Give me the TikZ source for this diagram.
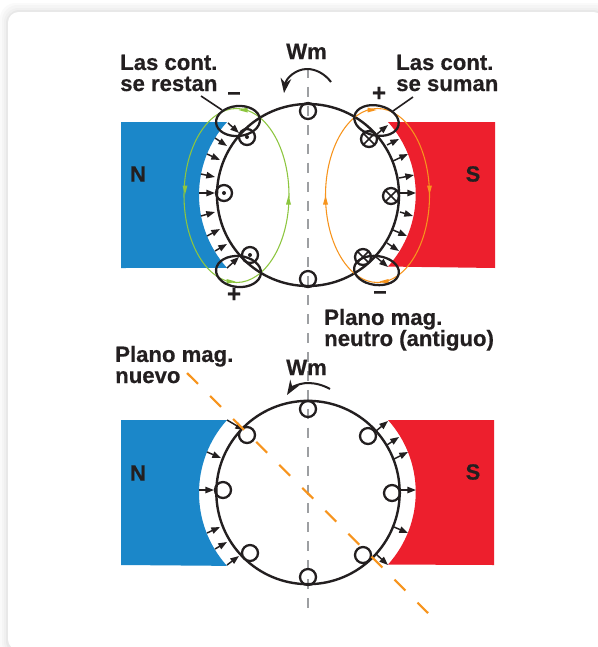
\documentclass[tikz,border=0pt]{standalone}
\usepackage{fontspec}
\setmainfont{Liberation Sans}[BoldFeatures={FakeBold=0.5}]
\usetikzlibrary{arrows.meta,calc}
\definecolor{cblue}{HTML}{1B87C9}
\definecolor{cred}{HTML}{ED1F2D}
\definecolor{cgreen}{HTML}{8DC63F}
\definecolor{corange}{HTML}{F7941D}
\definecolor{cink}{HTML}{231F20}
\definecolor{cgray}{HTML}{9D9FA2}
\tikzset{
  x=0.75pt,y=-0.75pt,
  ink/.style={draw=cink,line width=1.7pt},
  slot/.style={circle,draw=cink,line width=1.7pt,minimum size=12pt,inner sep=0pt},
  rotor/.style={circle,draw=cink,line width=1.8pt,minimum size=136.5pt,inner sep=0pt},
  field/.style={draw=cink,line width=1.1pt,-{Stealth[inset=0pt,length=6.5pt,width=4.8pt]}},
  lbl/.style={font=\fontsize{16.6pt}{15.8pt}\selectfont\bfseries,text=cink,align=left,inner sep=0pt,anchor=base west},
  pole/.style={font=\fontsize{16.5pt}{16pt}\selectfont\bfseries,text=cink,inner sep=0pt},
  sign/.style={font=\fontsize{18pt}{18pt}\selectfont\bfseries,text=cink,inner sep=0pt},
  axisline/.style={draw=cgray,line width=2pt,dash pattern=on 7.5pt off 6.7pt},
  neworange/.style={draw=corange,line width=1.6pt,dash pattern=on 11.6pt off 12.8pt},
  loopgreen/.style={draw=cgreen,line width=0.8pt},
  looporange/.style={draw=corange,line width=0.8pt},
  wm/.style={draw=cink,line width=1.5pt,-{Stealth[length=11pt,width=8pt]}},
}
\newcommand{\crossmark}[1]{\draw[draw=cink,line width=1.2pt] ($(#1)+(-5.6,-5.6)$) -- ($(#1)+(5.6,5.6)$) ($(#1)+(-5.6,5.6)$) -- ($(#1)+(5.6,-5.6)$);}
\newcommand{\loophead}[3]{\fill[#3,shift={(#1)},rotate=#2] (4.5,0) -- (-4.5,-2.5) -- (-4.5,2.5) -- cycle;}
\begin{document}
\begin{tikzpicture}
\useasboundingbox (0,0) rectangle (598,647);
% card and its soft shadow
\fill[white] (0,0) rectangle (598,647);
\fill[black!2,rounded corners=12pt] (0,3) rectangle (612,660);
\fill[black!4,rounded corners=12pt] (2,5) rectangle (610,658);
\fill[black!6,rounded corners=11pt] (4,8) rectangle (608,656);
\fill[black!9,rounded corners=10pt] (6,10) rectangle (606,654);
\fill[white,rounded corners=8pt] (8,12) rectangle (604,650);

% magnets
\fill[cblue] (121,122) -- (227,122) arc[start angle=222,end angle=138,radius=109] -- (121,268) -- cycle;
\fill[cred] (495,122) -- (388,122) arc[start angle=-42,end angle=42,radius=108] -- (495,268) -- cycle;
\fill[cblue] (121,420) -- (227,420) arc[start angle=222,end angle=138,radius=109] -- (121,565) -- cycle;
\fill[cred] (494,420) -- (388,420) arc[start angle=-42,end angle=42,radius=108] -- (494,565) -- cycle;

\coordinate (axisA) at (308,68);
\coordinate (axisB) at (308,612);
\draw[axisline] (axisA) -- (axisB);

% === upper machine ===
\node[rotor] (rotorA) at (308,195) {};
\node[slot] (a1) at (308,111) {};
\node[slot] (a2) at (308,279) {};
\node[slot] (a3) at (224,193) {};
\node[slot] (a4) at (247,137) {};
\node[slot] (a5) at (250,255) {};
\node[slot] (a6) at (369,139) {};
\node[slot] (a7) at (391,196) {};
\node[slot] (a8) at (363,257) {};
\fill[cink] (a3) circle[radius=2];
\fill[cink] (a4) circle[radius=2];
\fill[cink] (a5) circle[radius=2];
\crossmark{a6}\crossmark{a7}\crossmark{a8}

\foreach \xa/\ya/\xb/\yb in {
 228/123/239/133, 215/138/227/146, 207/154/220/160, 201/174/215/177, 199/193/215/193,
 201/216/215/212, 207/236/220/229, 215/251/227/244, 227/268/239/257,
 377/134/388/125, 387/145/399/139, 393/161/408/154, 399/178/414/175, 400/193/416/193,
 400/212/413/216, 393/230/407/236, 387/243/399/251, 376/257/388/267}
  \draw[field] (\xa,\ya) -- (\xb,\yb);

% flux loops
\draw[loopgreen] (236.5,195.5) ellipse[x radius=52.5,y radius=87];
\draw[looporange] (377.5,195.5) ellipse[x radius=52,y radius=87];
\loophead{243,110}{180}{cgreen}
\loophead{185,190}{-90}{cgreen}
\loophead{231,281.5}{0}{cgreen}
\loophead{288.5,200}{90}{cgreen}
\loophead{372,110}{0}{corange}
\loophead{429.5,190}{-90}{corange}
\loophead{384,281.5}{180}{corange}
\loophead{325.5,200}{90}{corange}

% commutating zones
\draw[ink,rotate around={5:(238,121)}] (238,121) ellipse[x radius=22,y radius=15];
\draw[ink,rotate around={-5:(238.5,271.5)}] (238.5,271.5) ellipse[x radius=22.5,y radius=15.5];
\draw[ink,rotate around={-12:(376.5,120.5)}] (376.5,120.5) ellipse[x radius=22.5,y radius=15];
\draw[ink,rotate around={-7:(376.5,270.5)}] (376.5,270.5) ellipse[x radius=22.5,y radius=14.5];

% labels upper
\node[lbl] (t1) at (120,91) {Las cont.\\se restan};
\node[lbl] (t2) at (396,91) {Las cont.\\se suman};
\node[lbl] (wm1) at (286,59) {Wm};
\node[pole] (n1) at (138,174) {N};
\node[pole] (s1) at (473,174) {S};
\node[sign] (m1) at (234,96) {–};
\node[sign] (p1) at (379,94) {+};
\node[sign] (p2) at (234,295) {+};
\node[sign] (m2) at (380,295) {–};
\coordinate (lead1) at (201,96);
\coordinate (lead1e) at (222,110);
\coordinate (lead2) at (413,97);
\coordinate (lead2e) at (393,111);
\draw[ink,line width=1.2pt] (lead1) -- (lead1e);
\draw[ink,line width=1.2pt] (lead2) -- (lead2e);
\coordinate (wa) at (331,82);
\coordinate (wb) at (307,69);
\coordinate (wc) at (284,93);
\draw[wm] (wa) .. controls (325,74) and (316,69) .. (wb) .. controls (296,69) and (286,78) .. (wc);

\node[lbl] (t3) at (324,346) {Plano mag.\\neutro (antiguo)};
\node[lbl] (t4) at (115,383) {Plano mag.\\nuevo};

% === lower machine ===
\node[rotor,minimum size=137.5pt] (rotorB) at (308,492.5) {};
\node[slot] (b1) at (308,409) {};
\node[slot] (b2) at (308,577) {};
\node[slot] (b3) at (223,490) {};
\node[slot] (b4) at (247,435) {};
\node[slot] (b5) at (250,553) {};
\node[slot] (b6) at (368,436) {};
\node[slot] (b7) at (392,493) {};
\node[slot] (b8) at (363,555) {};
\foreach \xa/\ya/\xb/\yb in {
 227/420/244/430, 207/452/221/458, 199/490/214/490, 207/533/220/527, 215/549/227/542, 227/565/239/556,
 376/431/388/421, 387/445/399/437, 394/459/408/452, 400/490/416/490, 394/527/408/533, 376/554/388/565}
  \draw[field] (\xa,\ya) -- (\xb,\yb);

\coordinate (oa) at (187,373);
\coordinate (ob) at (428,613);
\draw[neworange] (oa) -- (ob);

\node[lbl] (wm2) at (286,375) {Wm};
\node[pole] (n2) at (138,473) {N};
\node[pole] (s2) at (473,472) {S};
\coordinate (wd) at (330,389);
\coordinate (we) at (308,383);
\coordinate (wf) at (287,395);
\draw[wm] (wd) .. controls (323,385) and (315,383) .. (we) .. controls (300,383) and (292,387) .. (wf);
\end{tikzpicture}
\end{document}
